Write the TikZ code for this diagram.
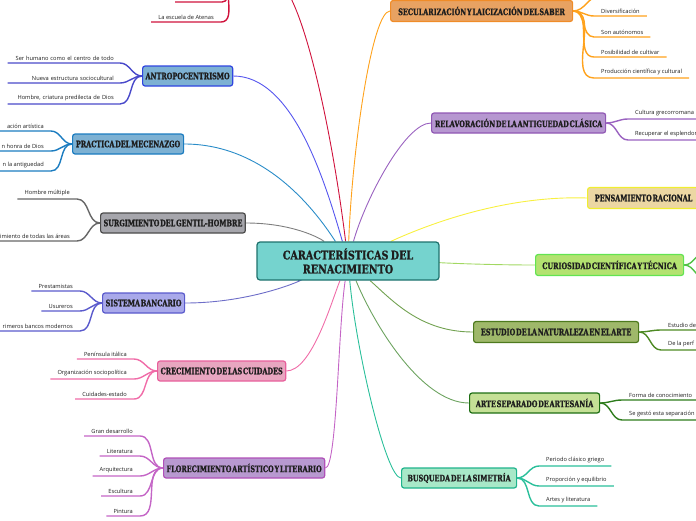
\documentclass[tikz,border=0pt]{standalone}
\usepackage{fontspec}
\setmainfont{Open Sans}
\newfontfamily\headfont{DejaVu Serif}[FakeStretch=0.72, WordSpace=0.35, FakeBold=1]
\newfontfamily\titlefont{DejaVu Serif}[FakeStretch=0.8, WordSpace=0.7, FakeBold=1]
\usetikzlibrary{arrows}
\pgfdeclarelayer{bg}
\pgfsetlayers{bg,main}
\definecolor{txt}{HTML}{1E1E1E}
\definecolor{centreF}{HTML}{75D3CE}\definecolor{centreB}{HTML}{1E726D}
\definecolor{redC}{HTML}{D0123C}
\definecolor{antroF}{HTML}{7DB1D3}\definecolor{antroB}{HTML}{2F45E0}\definecolor{antroC}{HTML}{5656EE}
\definecolor{meceF}{HTML}{7DB1D3}\definecolor{meceB}{HTML}{1B7CC0}\definecolor{meceC}{HTML}{2A8CC8}
\definecolor{gentF}{HTML}{A6A6AC}\definecolor{gentB}{HTML}{4C4C4C}\definecolor{gentC}{HTML}{7E7E7E}
\definecolor{bancF}{HTML}{A9A9EA}\definecolor{bancB}{HTML}{5A5ACC}\definecolor{bancC}{HTML}{6E6EC8}
\definecolor{creciF}{HTML}{E8A6C0}\definecolor{creciB}{HTML}{E8609C}\definecolor{creciC}{HTML}{F06CA8}
\definecolor{floreF}{HTML}{B899D0}\definecolor{floreB}{HTML}{B050B8}\definecolor{floreC}{HTML}{C465C6}
\definecolor{secuF}{HTML}{E8A262}\definecolor{secuB}{HTML}{F08C28}\definecolor{secuC}{HTML}{FFA21C}
\definecolor{relavF}{HTML}{B697D0}\definecolor{relavB}{HTML}{9058B4}\definecolor{relavC}{HTML}{9A62C0}
\definecolor{pensaF}{HTML}{ECD7A3}\definecolor{pensaB}{HTML}{F0EE30}\definecolor{pensaC}{HTML}{F8F040}
\definecolor{curioF}{HTML}{B3E270}\definecolor{curioB}{HTML}{62E452}\definecolor{curioC}{HTML}{A2D862}
\definecolor{estudF}{HTML}{9FB86A}\definecolor{estudB}{HTML}{4E7A1E}\definecolor{estudC}{HTML}{4E8A24}
\definecolor{artesF}{HTML}{C5E096}\definecolor{artesB}{HTML}{1E6E14}\definecolor{artesC}{HTML}{2E7C1C}
\definecolor{busqF}{HTML}{A8E8C8}\definecolor{busqB}{HTML}{1FB38C}\definecolor{busqC}{HTML}{2ABF9A}

\begin{document}
\begin{tikzpicture}[x=1pt,y=-1pt]
\tikzstyle{topic}=[draw, line width=1.2pt, rounded corners=2.5pt, anchor=west, minimum height=20pt, inner xsep=3pt, inner ysep=0pt, text=txt, font=\headfont\bfseries\fontsize{9}{10}\selectfont]
\tikzstyle{leaf}=[inner xsep=7pt, inner ysep=2.5pt, text=txt, font=\fontsize{5.7}{6}\selectfont]
\tikzstyle{branch}=[line width=1.4pt]
\tikzstyle{link}=[line width=0.9pt]
% end of definitions
\useasboundingbox (0,0) rectangle (696,520);
\clip (0,0) rectangle (696,520);

\node[draw=centreB, fill=centreF, line width=1.2pt, rounded corners=3pt, minimum width=182pt, minimum height=38pt, align=center, text=txt, font=\titlefont\bfseries\fontsize{12}{14}\selectfont] (centre) at (348,261) {CARACTERÍSTICAS DEL\\RENACIMIENTO}; %centre
\coordinate (redL) at (236,-22); %red topic, off the page
\coordinate (redR) at (272,-22);

% left topics
\node[topic, draw=antroB, fill=antroF, minimum width=89pt] (antro) at (142,76) {ANTROPOCENTRISMO};
\node[topic, draw=meceB, fill=meceF, minimum width=111pt] (mece) at (72,144) {PRACTICA DEL MECENAZGO};
\node[topic, draw=gentB, fill=gentF, minimum width=142pt] (gent) at (100,223) {SURGIMIENTO DEL GENTIL-HOMBRE};
\node[topic, draw=bancB, fill=bancF, minimum width=82pt] (banc) at (102,303) {SISTEMA BANCARIO};
\node[topic, draw=creciB, fill=creciF, minimum width=125pt] (creci) at (157,371) {CRECIMIENTO DE LAS CUIDADES};
\node[topic, draw=floreB, fill=floreF, minimum width=158pt] (flore) at (163,468) {FLORECIMIENTO ARTÍSTICO Y LITERARIO};
% right topics
\node[topic, draw=secuB, fill=secuF, minimum width=182pt, minimum height=21pt] (secu) at (390,11) {SECULARIZACIÓN Y LAICIZACIÓN DEL SABER};
\node[topic, draw=relavB, fill=relavF, minimum width=174pt] (relav) at (431,123) {RELAVORACIÓN DE LA ANTIGUEDAD CLÁSICA};
\node[topic, draw=pensaB, fill=pensaF, minimum width=112pt, minimum height=21pt] (pensa) at (587,198) {PENSAMIENTO RACIONAL};
\node[topic, draw=curioB, fill=curioF, minimum width=148pt, minimum height=21pt] (curio) at (535,265) {CURIOSIDAD CIENTÍFICA Y TÉCNICA};
\node[topic, draw=estudB, fill=estudF, minimum width=165pt, minimum height=21pt] (estud) at (473,332) {ESTUDIO DE LA NATURALEZA EN EL ARTE};
\node[topic, draw=artesB, fill=artesF, minimum width=130pt] (artes) at (469,403) {ARTE SEPARADO DE ARTESANÍA};
\node[topic, draw=busqB, fill=busqF, minimum width=115pt] (busq) at (401,478) {BUSQUEDA DE LA SIMETRÍA};

% left leaves
\node[leaf, anchor=south east] (rd1) at (221,22) {La escuela de Atenas};
\coordinate (rd0) at (175,2);
\node[leaf, anchor=south east, inner xsep=6pt, text width=100pt, align=right] (an1) at (120,63) {Ser humano como el centro de todo};
\node[leaf, anchor=south east, inner xsep=6pt, text width=100pt, align=right] (an2) at (120,83) {Nueva estructura sociocultural};
\node[leaf, anchor=south east, inner xsep=6pt, text width=100pt, align=right] (an3) at (120,104) {Hombre, criatura predilecta de Dios};
\node[leaf, anchor=south east] (me1) at (51,131) {ación artística};
\node[leaf, anchor=south east] (me2) at (51,151) {n honra de Dios};
\node[leaf, anchor=south east] (me3) at (51,171) {n la antiguedad};
\node[leaf, anchor=south east] (ge1) at (77,199) {Hombre múltiple};
\node[leaf, anchor=south east] (ge2) at (77,241) {imiento de todas las áreas};
\node[leaf, anchor=south east] (ba1) at (80,291) {Prestamistas};
\node[leaf, anchor=south east] (ba2) at (80,311) {Usureros};
\node[leaf, anchor=south east] (ba3) at (80,331) {rimeros bancos modernos};
\node[leaf, anchor=south east] (cr1) at (134,359) {Península itálica};
\node[leaf, anchor=south east] (cr2) at (134,379) {Organización sociopolítica};
\node[leaf, anchor=south east] (cr3) at (134,399) {Cuidades-estado};
\node[leaf, anchor=south east] (fl1) at (140,436) {Gran desarrollo};
\node[leaf, anchor=south east] (fl2) at (140,456) {Literatura};
\node[leaf, anchor=south east] (fl3) at (140,476) {Arquitectura};
\node[leaf, anchor=south east] (fl4) at (140,496) {Escultura};
\node[leaf, anchor=south east] (fl5) at (140,516) {Pintura};
% right leaves
\coordinate (se0) at (600,-4);
\node[leaf, anchor=south west] (se1) at (594,16) {Diversificación};
\node[leaf, anchor=south west] (se2) at (594,37) {Son autónomos};
\node[leaf, anchor=south west] (se3) at (594,57) {Posibilidad de cultivar};
\node[leaf, anchor=south west] (se4) at (594,78) {Producción científica y cultural};
\node[leaf, anchor=south west] (re1) at (628,119) {Cultura grecorromana};
\node[leaf, anchor=south west] (re2) at (628,140) {Recuperar el esplendor};
\coordinate (cu1) at (706,252);
\coordinate (cu2) at (706,279);
\node[leaf, anchor=south west] (es1) at (661,330) {Estudio de};
\node[leaf, anchor=south west] (es2) at (661,350) {De la perf};
\node[leaf, anchor=south west] (ar1) at (622,400) {Forma de conocimiento};
\node[leaf, anchor=south west] (ar2) at (622,420) {Se gestó esta separación};
\node[leaf, anchor=south west] (bu1) at (539,466) {Periodo clásico griego};
\node[leaf, anchor=south west] (bu2) at (539,486) {Proporción y equilibrio};
\node[leaf, anchor=south west] (bu3) at (539,506) {Artes y literatura};

\begin{pgfonlayer}{bg}
\clip (0,0) rectangle (696,520);
% centre to topics
\draw[link, redC] (centre) .. controls (332,130) and (300,-22) .. (redR);
\draw[link, antroC] (antro.east) .. controls (290,76) and (322,170) .. (centre);
\draw[link, meceC] (mece.east) .. controls (262,144) and (312,205) .. (centre);
\draw[link, gentC] (gent.east) .. controls (292,223) and (320,238) .. (centre);
\draw[link, bancC] (banc.east) .. controls (262,303) and (320,272) .. (centre);
\draw[link, creciC] (creci.east) .. controls (312,371) and (332,300) .. (centre);
\draw[link, floreC] (flore.east) .. controls (337,468) and (338,330) .. (centre);
\draw[link, secuC] (secu.west) .. controls (372,11) and (352,150) .. (centre);
\draw[link, relavC] (relav.west) .. controls (405,123) and (365,200) .. (centre);
\draw[link, pensaC] (pensa.west) .. controls (500,195) and (420,228) .. (centre);
\draw[link, curioC] (curio.west) .. controls (480,265) and (420,262) .. (centre);
\draw[link, estudC!80!white] (estud.west) .. controls (420,332) and (392,300) .. (centre);
\draw[link, artesC!70!white] (artes.west) .. controls (420,403) and (372,320) .. (centre);
\draw[link, busqC] (busq.west) .. controls (386,478) and (356,350) .. (centre);
% topic to leaves
\draw[branch, redC] (rd0) -- (222,2) to[out=0,in=180] (redL);
\draw[branch, redC] (rd1.south west) -- (rd1.south east) to[out=0,in=180] (redL);
\foreach \l in {an1,an2,an3}
  \draw[branch, antroC!85!black] (\l.south west) -- (\l.south east) to[out=0,in=180] (antro.west);
\foreach \l in {me1,me2,me3}
  \draw[branch, meceB] (\l.south west) -- (\l.south east) to[out=0,in=180] (mece.west);
\foreach \l in {ge1,ge2}
  \draw[branch, gentB!85!white] (\l.south west) -- (\l.south east) to[out=0,in=180] (gent.west);
\foreach \l in {ba1,ba2,ba3}
  \draw[branch, bancB] (\l.south west) -- (\l.south east) to[out=0,in=180] (banc.west);
\foreach \l in {cr1,cr2,cr3}
  \draw[branch, creciC] (\l.south west) -- (\l.south east) to[out=0,in=180] (creci.west);
\foreach \l in {fl1,fl2,fl3,fl4,fl5}
  \draw[branch, floreC] (\l.south west) -- (\l.south east) to[out=0,in=180] (flore.west);
\draw[branch, secuC] (secu.east) to[out=0,in=180] (se0) -- ++(60,0);
\foreach \l in {se1,se2,se3,se4}
  \draw[branch, secuC] (secu.east) to[out=0,in=180] (\l.south west) -- (\l.south east);
\foreach \l in {re1,re2}
  \draw[branch, relavC] (relav.east) to[out=0,in=180] (\l.south west) -- ++(80,0);
\foreach \l in {cu1,cu2}
  \draw[branch, curioB!85!black] (curio.east) to[out=0,in=180] (\l);
\foreach \l in {es1,es2}
  \draw[branch, estudC] (estud.east) to[out=0,in=180] (\l.south west) -- ++(60,0);
\foreach \l in {ar1,ar2}
  \draw[branch, artesC] (artes.east) to[out=0,in=180] (\l.south west) -- ++(90,0);
\foreach \l in {bu1,bu2,bu3}
  \draw[branch, busqC] (busq.east) to[out=0,in=180] (\l.south west) -- (\l.south east);
\end{pgfonlayer}
\end{tikzpicture}
\end{document}
